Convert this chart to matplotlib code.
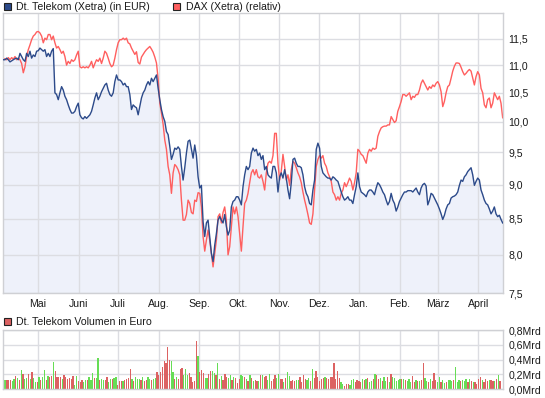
import matplotlib
matplotlib.use("Agg")
import matplotlib.pyplot as plt
import matplotlib.dates as mdates
from matplotlib.patches import Rectangle
from matplotlib.ticker import FixedLocator, FixedFormatter, NullLocator
import pandas as pd
import numpy as np

plt.rcParams['font.family'] = ['Liberation Sans', 'DejaVu Sans']

# ---------------- data ----------------
telekom = [
    11.10, 11.10, 11.13, 11.10, 11.06, 11.08, 11.10, 11.12, 11.13, 11.10, 11.22, 11.16, 11.10, 11.07, 11.22, 11.16,
    11.26, 11.13, 11.19, 11.16, 11.26, 11.27, 11.32, 11.29, 11.26, 11.29, 11.16, 11.22, 11.16, 11.26, 11.31, 10.50,
    10.47, 10.38, 10.50, 10.61, 10.55, 10.44, 10.38, 10.29, 10.21, 10.15, 10.15, 10.18, 10.26, 10.32, 10.12, 10.07,
    10.05, 10.09, 10.06, 10.09, 10.12, 10.18, 10.29, 10.41, 10.50, 10.38, 10.44, 10.52, 10.58, 10.64, 10.67, 10.55,
    10.47, 10.44, 10.50, 10.70, 10.82, 10.73, 10.73, 10.70, 10.64, 10.67, 10.61, 10.61,
    10.47, 10.21, 10.29, 10.26, 10.24, 10.12, 10.26, 10.41, 10.50, 10.55, 10.64, 10.70, 10.64, 10.76, 10.70, 10.76,
    10.82, 10.58, 10.38, 10.21, 10.09, 10.01, 9.84, 9.79, 9.60, 9.39, 9.47, 9.57, 9.55, 9.59, 9.55, 9.28,
    9.07, 9.26, 9.49, 9.68, 9.70, 9.55, 9.41, 9.62, 9.45, 9.12, 8.95, 8.99, 8.46, 8.25, 8.44, 8.48,
    8.25, 8.02, 7.91, 8.13, 8.29, 8.48, 8.53, 8.48, 8.44, 8.56, 8.39, 8.27, 8.34, 8.67, 8.75, 8.77,
    8.82, 8.82, 8.77, 8.70, 8.97, 9.15, 9.28, 9.23, 9.28,
    9.49, 9.57, 9.52, 9.55, 9.45, 9.49, 9.39, 9.45, 9.23, 9.28, 9.15, 9.12, 9.10, 9.28, 9.28, 9.18,
    8.89, 9.12, 9.18, 9.10, 9.23, 9.10, 8.92, 8.79, 9.03, 9.39, 9.41, 9.33, 9.28, 9.28, 9.26, 9.15,
    8.97, 8.87, 8.82, 8.72, 8.70, 8.92, 9.07, 9.55, 9.65, 9.57, 9.28, 9.18, 9.15, 9.12, 9.10, 9.10,
    9.07, 9.12, 9.10, 9.07, 9.05, 8.97, 8.89, 8.82, 8.77, 8.79, 8.82, 8.77, 8.77, 8.72, 8.85, 8.97,
    9.18, 8.97, 8.89, 8.87, 8.85, 8.82, 8.89, 8.92, 8.92, 8.89, 8.85,
    8.95, 9.03, 9.00, 8.95, 8.89, 8.85, 8.77, 8.70, 8.75, 8.87, 8.77, 8.72, 8.61, 8.67, 8.75, 8.80,
    8.85, 8.89, 8.89, 8.91, 8.91, 8.91, 8.89, 8.92, 8.95, 8.89, 8.85, 8.95, 9.00, 9.02, 8.98, 8.70,
    8.77, 8.87, 8.85, 8.80, 8.75, 8.70, 8.64, 8.57, 8.49, 8.55, 8.64, 8.70, 8.72, 8.80, 8.82, 8.83,
    8.85, 8.89, 8.99, 9.07, 9.05, 9.12, 9.15, 9.20, 9.23, 9.26, 9.15, 8.99, 9.05, 9.10, 9.07, 8.92,
    8.85, 8.77, 8.72, 8.70, 8.64, 8.57, 8.61, 8.67, 8.57, 8.53, 8.55, 8.49, 8.44,
]

dax_rel = [
    11.13, 11.11, 11.10, 11.14, 11.10, 11.14, 11.11, 11.16, 11.10, 11.13, 11.10, 11.03, 10.86, 10.97, 11.16, 11.29,
    11.38, 11.48, 11.55, 11.58, 11.63, 11.64, 11.61, 11.55, 11.42, 11.51, 11.48, 11.58, 11.58, 11.48, 11.55, 11.42,
    11.32, 11.35, 11.29, 11.22, 11.26, 11.16, 11.00, 11.07, 11.03, 11.10, 11.07, 11.10, 11.19, 11.26, 10.97, 10.95,
    10.97, 10.95, 10.97, 10.95, 11.00, 11.07, 10.95, 11.03, 11.10, 11.07, 11.13, 11.03, 11.13, 11.26, 11.22, 11.13,
    11.03, 10.97, 11.00, 11.13, 11.29, 11.42, 11.48, 11.48, 11.51, 11.48, 11.51, 11.42,
    11.40, 11.32, 11.26, 11.20, 11.25, 11.05, 11.02, 11.15, 11.20, 11.25, 11.29, 11.32, 11.35, 11.30, 11.24, 11.15,
    11.04, 10.75, 10.32, 10.15, 9.96, 9.70, 9.55, 9.28, 9.15, 8.87, 9.18, 9.31, 9.28, 9.23, 9.15, 8.77,
    8.48, 8.48, 8.56, 8.77, 8.72, 8.59, 8.57, 8.77, 8.75, 8.88, 8.87, 8.67, 8.25, 8.05, 8.20, 8.34,
    8.20, 8.02, 7.84, 8.02, 8.20, 8.53, 8.57, 8.44, 8.59, 8.67, 8.48, 8.00, 8.11, 8.39, 8.67, 8.57,
    8.67, 8.53, 8.29, 8.05, 8.39, 8.72, 8.77, 8.87, 9.03,
    9.18, 9.23, 9.15, 9.23, 9.12, 9.10, 9.15, 9.05, 8.92, 9.18, 9.33, 9.36, 9.33, 9.45, 9.81, 9.81,
    9.33, 9.07, 9.21, 9.47, 9.28, 9.07, 9.15, 8.99, 9.23, 9.36, 9.33, 9.26, 9.18, 9.12, 9.03, 8.89,
    8.77, 8.67, 8.56, 8.44, 8.42, 8.57, 8.92, 9.28, 9.39, 9.45, 9.41, 9.45, 9.33, 9.28, 9.18, 9.12,
    9.05, 8.89, 8.85, 8.77, 8.82, 8.77, 8.87, 8.92, 9.03, 8.97, 9.03, 9.10, 9.05, 8.92, 9.03, 9.18,
    9.55, 9.52, 9.47, 9.45, 9.39, 9.33, 9.49, 9.55, 9.52, 9.57, 9.55,
    9.57, 9.76, 9.84, 9.90, 9.92, 9.93, 9.93, 9.95, 9.95, 10.09, 10.04, 9.99, 10.02, 10.18, 10.26, 10.35,
    10.47, 10.47, 10.44, 10.47, 10.50, 10.38, 10.44, 10.42, 10.47, 10.47, 10.55, 10.67, 10.73, 10.67, 10.61, 10.55,
    10.61, 10.58, 10.64, 10.61, 10.67, 10.70, 10.64, 10.52, 10.26, 10.35, 10.50, 10.61, 10.64, 10.76, 10.89, 10.98,
    11.04, 11.04, 11.03, 10.96, 10.88, 10.82, 10.85, 10.89, 10.92, 10.89, 10.76, 10.64, 10.79, 10.88, 10.82, 10.58,
    10.50, 10.29, 10.24, 10.38, 10.41, 10.24, 10.32, 10.50, 10.44, 10.38, 10.44, 10.32, 10.07,
]

# daily trading volume in billion EUR (Mrd)
volume = [
    .207, .126, .126, .126, .126, .112, .139, .180, .148, .126, .261, .207, .135, .148, .207, .135,
    .229, .153, .103, .103, .162, .126, .171, .261, .126, .180, .171, .180, .373, .247, .162, .162,
    .162, .135, .193, .162, .135, .148, .144, .184, .058, .180, .112, .103, .126, .103, .126, .126,
    .162, .126, .225, .148, .148, .418, .126, .135, .126, .126, .162, .103, .139, .135, .148, .162,
    .058, .112, .112, .112, .126, .135, .157, .270, .139, .112, .171, .135, .135, .126, .171, .117,
    .126, .162, .135, .126, .135, .157, .229, .193, .238, .306, .387, .351, .576, .396, .382, .238,
    .135, .171, .135, .270, .283, .193, .270, .193, .216, .162, .103, .112, .652, .450, .234, .261,
    .225, .148, .148, .202, .247, .247, .225, .193, .351, .139, .180, .126, .202, .162, .148, .193,
    .126, .162, .157, .081, .135, .193, .180, .162, .135, .117, .193, .148, .112, .126, .112, .112,
    .193, .193, .162, .180, .126, .207, .112, .135, .193, .148, .207, .135, .139, .094, .148, .238,
    .180, .117, .126, .117, .126, .126, .162, .099, .193, .135, .126, .157, .117, .270, .157, .247,
    .171, .117, .135, .157, .171, .148, .139, .162, .171, .360, .135, .247, .157, .103, .072,
    .045, .072, .072, .058, .126, .139, .103, .126, .117, .103, .139, .126, .139, .148, .103, .117,
    .139, .207, .193, .135, .148, .112, .162, .117, .162, .103, .207, .162, .148, .117, .126, .135,
    .135, .139, .126, .112, .135, .103, .184, .103, .126, .112, .112, .126, .360, .148, .117, .103,
    .135, .112, .225, .126, .103, .162, .103, .126, .090, .103, .126, .126, .112, .126, .306, .103,
    .126, .117, .126, .112, .135, .103, .139, .117, .103, .103, .072, .139, .162, .126, .103, .139,
    .117, .126, .126, .117, .117, .135, .193, .117,
]
# G = price up day, R = price down day (one letter per volume bar)
volume_dir = (
    "GGRRRGGRGR" "GRGGRGRGGR" "GRGGRGRRGR" "RRRGRRRRRR" "GGRRRGGRGG"
    "GRGGRGGRRG" "GRGGRRRGRR" "RRGRGGGRGR" "RGGRGGRRRR" "RRRRGG"
    "RGRRRGGGRR" "RRRGRRRGGR" "RGGRGRGRRR" "GGRGRRRGGR" "GRGRGRRGRG"
    "RRGGRRRGGR" "RGRGGRRRGG" "RRRRGGRGRR" "RRRRGRRRRR" "RRRGG"
    "RRRGGGRRRR" "GRGRGGRGRR" "GRGGRGRGGG" "GGRGRGGGRR" "GRGRRGGRGR"
    "RRGGRGGRGG" "GRGGGRGGGR" "GRGRRRRGRR" "RGRRGRGR"
)

months = ['2011-05-01', '2011-06-01', '2011-07-01', '2011-08-01', '2011-09-01', '2011-10-01',
          '2011-11-01', '2011-12-01', '2012-01-01', '2012-02-01', '2012-03-01', '2012-04-01']
month_labels = ['Mai', 'Juni', 'Juli', 'Aug.', 'Sep.', 'Okt.', 'Nov.', 'Dez.', 'Jan.', 'Feb.', 'März', 'April']

price_ticks = [7.5, 8.0, 8.5, 9.0, 9.5, 10.0, 10.5, 11.0, 11.5]
price_labels = ['7,5', '8,0', '8,5', '9,0', '9,5', '10,0', '10,5', '11,0', '11,5']
vol_ticks = [0.0, 0.2, 0.4, 0.6, 0.8]
vol_labels = ['0,0Mrd', '0,2Mrd', '0,4Mrd', '0,6Mrd', '0,8Mrd']

start = pd.Timestamp('2011-04-04 12:00')
end_price = pd.Timestamp('2012-04-19 12:00')
end_vol = pd.Timestamp('2012-04-17 12:00')
price_dates = pd.date_range(start, end_price, periods=len(telekom))
vol_dates = pd.date_range(start, end_vol, periods=len(volume))

# ---------------- style ----------------
BLUE = '#2c4a8a'
RED = '#ff5f5f'
FILL = '#eef1fa'
GRID = '#dcdde2'
VOL_RED = '#dc6262'
VOL_GREEN = '#66dd55'
TXT = '#1a1a1a'
FS = 7.6

W, H = 545, 398
fig = plt.figure(figsize=(W / 100, H / 100), dpi=100)

def frac(x0, y0, x1, y1):
    return [x0 / W, 1 - y1 / H, (x1 - x0) / W, (y1 - y0) / H]

ax = fig.add_axes(frac(3, 13.3, 503, 293.3))
axv = fig.add_axes(frac(3, 330, 503, 389.3))

xmin = pd.Timestamp('2011-04-04 06:00')
xmax = pd.Timestamp('2012-04-19 18:00')
month_ts = [pd.Timestamp(m) for m in months]

for a in (ax, axv):
    a.set_xlim(xmin, xmax)
    a.set_axisbelow(True)
    a.grid(True, color=GRID, lw=1.0)
    for s in a.spines.values():
        s.set_color('#cfd0d4')
        s.set_linewidth(1.0)
    a.yaxis.tick_right()
    a.tick_params(length=0, labelsize=FS, labelcolor=TXT, pad=4)
    a.xaxis.set_major_locator(FixedLocator(mdates.date2num(month_ts)))
    a.xaxis.set_minor_locator(NullLocator())

# price panel
ax.set_yscale('log')
ax.fill_between(price_dates, telekom, 7.0, color=FILL, lw=0, zorder=0.2)
ax.plot(price_dates, dax_rel, color=RED, lw=1.0, zorder=2)
ax.plot(price_dates, telekom, color=BLUE, lw=1.0, zorder=3)
ax.set_ylim(7.5, 12.0)
ax.yaxis.set_major_locator(FixedLocator(price_ticks))
ax.yaxis.set_major_formatter(FixedFormatter(price_labels))
ax.yaxis.set_minor_locator(NullLocator())
ax.xaxis.set_major_formatter(FixedFormatter(month_labels))
ax.tick_params(axis='x', pad=4)

# volume panel
vcolors = [VOL_GREEN if d == 'G' else VOL_RED for d in volume_dir]
axv.bar(vol_dates, volume, width=0.95, color=vcolors, lw=0, zorder=2)
axv.set_ylim(0, 0.8)
axv.yaxis.set_major_locator(FixedLocator(vol_ticks))
axv.yaxis.set_major_formatter(FixedFormatter(vol_labels))
axv.tick_params(axis='x', labelbottom=False)

# legends
def legend_item(x, y, color, label):
    fig.add_artist(Rectangle((x / W, 1 - (y + 7) / H), 7 / W, 7 / H,
                             transform=fig.transFigure, facecolor=color,
                             edgecolor='#222222', lw=0.8))
    fig.text((x + 12.5) / W, 1 - (y + 3.7) / H, label, fontsize=FS, color=TXT,
             va='center', ha='left')

legend_item(3.5, 3, BLUE, 'Dt. Telekom (Xetra) (in EUR)')
legend_item(173, 3, RED, 'DAX (Xetra) (relativ)')
legend_item(3.5, 318, VOL_RED, 'Dt. Telekom Volumen in Euro')

fig.savefig('out.png', dpi=100)
